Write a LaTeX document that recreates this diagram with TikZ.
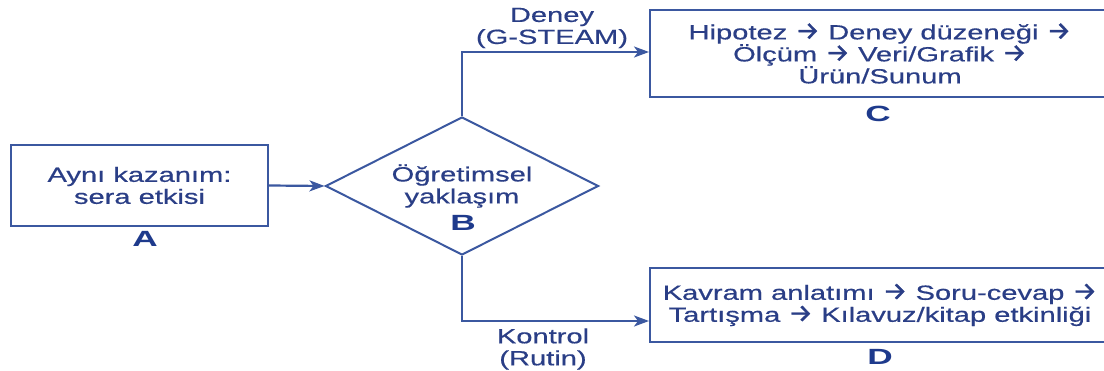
\documentclass[tikz,border=0pt]{standalone}
\usepackage{fontspec}
\setmainfont{Liberation Sans}[FakeStretch=1.42,FakeBold=0.5]
\newfontfamily\lblfont{Liberation Sans}[FakeStretch=1.6]
\newfontfamily\arrfont{Fira Sans}[FakeStretch=1.1,FakeBold=1.2]
\newcommand\tarr{{\arrfont\fontsize{25}{22}\selectfont →}}
\usetikzlibrary{shapes.geometric,arrows.meta,calc}
\definecolor{linec}{HTML}{3B58A0}
\definecolor{textc}{HTML}{2A3E86}
\definecolor{lblc}{HTML}{1E3A8C}
\tikzset{
  box/.style={draw=linec, line width=2pt, rectangle, inner sep=0pt, align=center, text=textc, font=\fontsize{20.5}{22}\selectfont},
  txt/.style={align=center, text=textc, inner sep=0pt, font=\fontsize{20.5}{22}\selectfont},
  lbl/.style={text=lblc, inner sep=0pt, font=\lblfont\bfseries\fontsize{22}{24}\selectfont},
  conn/.style={draw=linec, line width=2.2pt, -{Stealth[length=15pt,width=11pt,inset=4pt]}},
}
\begin{document}
\begin{tikzpicture}[x=1pt,y=-1pt]
\useasboundingbox (0,0) rectangle (1104,371);
\fill[white] (0,0) rectangle (1104,371);
% A
\node[box, minimum width=257pt, minimum height=81pt] (A) at (139.5,185.5) {Aynı kazanım:\\sera etkisi};
\node[lbl] (LA) at (145,239) {A};
% B
\node[draw=linec, line width=2pt, diamond, minimum width=273pt, minimum height=138pt, inner sep=0pt] (B) at (462,186) {};
\node[txt] (Bt) at (462,186) {Öğretimsel\\yaklaşım};
\node[lbl] (LB) at (463,223) {B};
% C
\node[box, minimum width=460pt, minimum height=87pt] (C) at (880,53.5) {Hipotez \tarr{} Deney düzeneği \tarr\\Ölçüm \tarr{} Veri/Grafik \tarr\\Ürün/Sunum};
\node[lbl] (LC) at (878,114) {C};
% D
\node[box, minimum width=460pt, minimum height=74pt] (D) at (880,305) {Kavram anlatımı \tarr{} Soru-cevap \tarr\\Tartışma \tarr{} Kılavuz/kitap etkinliği};
\node[lbl] (LD) at (880,357) {D};
% edge labels
\node[txt] (Ld1) at (552,28) {Deney\\(G-STEAM)};
\node[txt] (Ld2) at (543,349) {Kontrol\\(Rutin)};
% connectors
\draw[conn] (A.east) -- (B.west);
\draw[conn] (B.north) |- ([yshift=1.5pt]C.west);
\draw[conn] (B.south) |- ([yshift=-16pt]D.west);
\end{tikzpicture}
\end{document}
